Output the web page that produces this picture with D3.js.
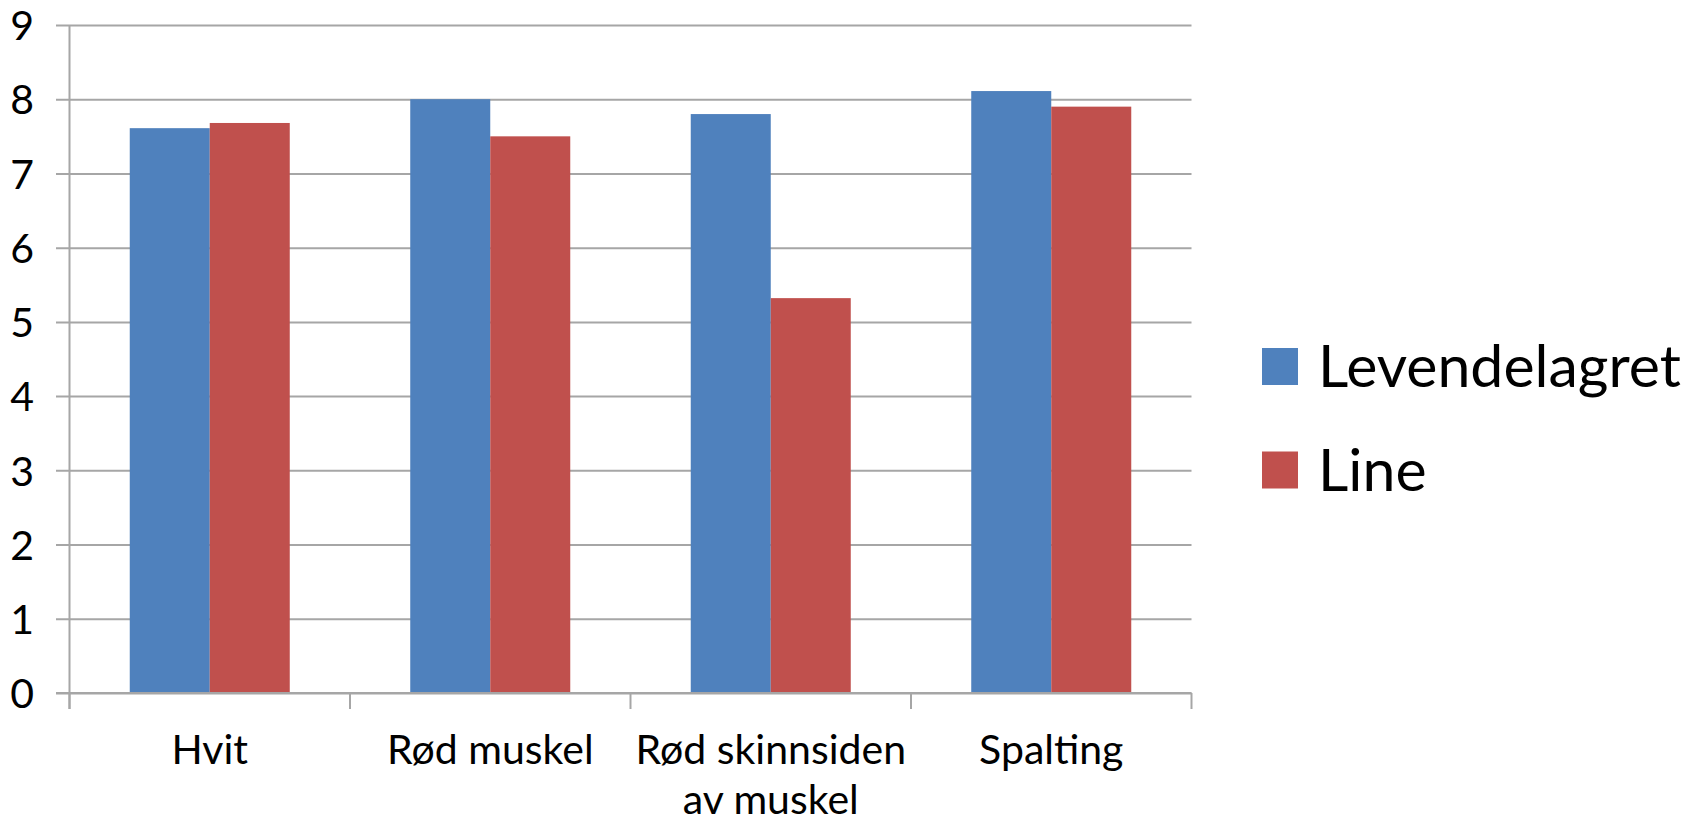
<!DOCTYPE html>
<html>
<head>
<meta charset="utf-8">
<script src="https://cdn.jsdelivr.net/npm/d3@7"></script>
<style>
  html, body { margin: 0; padding: 0; background: #fff; }
  svg { display: block; }
  text { font-family: Lato, "Open Sans", sans-serif; fill: #000; }
</style>
</head>
<body>
<svg id="chart" width="1707" height="824"></svg>
<script>
const categories = [["Hvit"], ["Rød muskel"], ["Rød skinnsiden", "av muskel"], ["Spalting"]];
const seriesNames = ["Levendelagret", "Line"];
const levendelagret = [7.61, 8.0, 7.8, 8.11];
const line = [7.68, 7.5, 5.32, 7.9];
const yTicks = [0, 1, 2, 3, 4, 5, 6, 7, 8, 9];
const colors = ["#4F81BD", "#C0504D"];

(function () {
const svg = d3.select("#chart");
const pLeft = 69.5, pRight = 1191.5, pTop = 25, pBottom = 693;
const catKeys = categories.map(c => c.join(" "));
const seriesValues = [levendelagret, line];

const x = d3.scaleBand().domain(catKeys).range([pLeft, pRight]).padding(0);
const x1 = d3.scaleBand().domain(seriesNames).range([0, x.bandwidth()]).paddingInner(0).paddingOuter(0.753);
const y = d3.scaleLinear().domain([0, 9]).range([pBottom, pTop]);

// gridlines + y labels
const yAxis = d3.axisLeft(y).tickValues(yTicks).tickSize(-(pRight - 56)).tickPadding(22).tickFormat(d3.format("d"));
const gy = svg.append("g").attr("transform", "translate(56,0)").call(yAxis);
gy.select(".domain").remove();
gy.selectAll(".tick line").attr("stroke", "#a6a6a6").attr("stroke-width", 2);
gy.selectAll(".tick text").attr("font-size", 41).attr("font-family", "Lato").attr("fill", "#000").attr("dy", "0.36em");

// bars
const groups = svg.append("g").selectAll("g").data(catKeys).join("g")
  .attr("transform", d => `translate(${x(d)},0)`);
groups.selectAll("rect").data((d, i) => seriesNames.map((s, j) => ({ s, v: seriesValues[j][i], j })))
  .join("rect")
  .attr("x", d => x1(d.s))
  .attr("width", x1.bandwidth())
  .attr("y", d => y(d.v))
  .attr("height", d => y(0) - y(d.v))
  .attr("fill", d => colors[d.j]);

// y axis line
svg.append("line").attr("x1", pLeft).attr("x2", pLeft).attr("y1", pTop).attr("y2", pBottom + 16)
  .attr("stroke", "#a6a6a6").attr("stroke-width", 2);
// x axis line
svg.append("line").attr("x1", 56).attr("x2", pRight).attr("y1", pBottom).attr("y2", pBottom)
  .attr("stroke", "#a6a6a6").attr("stroke-width", 2);
// category boundary ticks
const bounds = catKeys.map(c => x(c)).concat([x(catKeys[catKeys.length - 1]) + x.bandwidth()]);
svg.append("g").selectAll("line").data(bounds).join("line")
  .attr("x1", d => d).attr("x2", d => d).attr("y1", pBottom).attr("y2", pBottom + 16)
  .attr("stroke", "#a6a6a6").attr("stroke-width", 2);

// x labels
const xl = svg.append("g").selectAll("text").data(categories).join("text")
  .attr("x", (d, i) => x(catKeys[i]) + x.bandwidth() / 2)
  .attr("y", 764)
  .attr("text-anchor", "middle")
  .attr("font-size", 41);
xl.selectAll("tspan").data(d => d).join("tspan")
  .attr("x", function() { return d3.select(this.parentNode).attr("x"); })
  .attr("dy", (d, i) => i === 0 ? 0 : 50)
  .text(d => d);

// legend
const lg = svg.append("g").selectAll("g").data(seriesNames).join("g")
  .attr("transform", (d, i) => `translate(1262,${348 + i * 103.5})`);
lg.append("rect").attr("width", 36).attr("height", 37).attr("fill", (d, i) => colors[i]);
lg.append("text").attr("x", 56).attr("y", 39).attr("font-size", 59).text(d => d);
})();
</script>
</body>
</html>
